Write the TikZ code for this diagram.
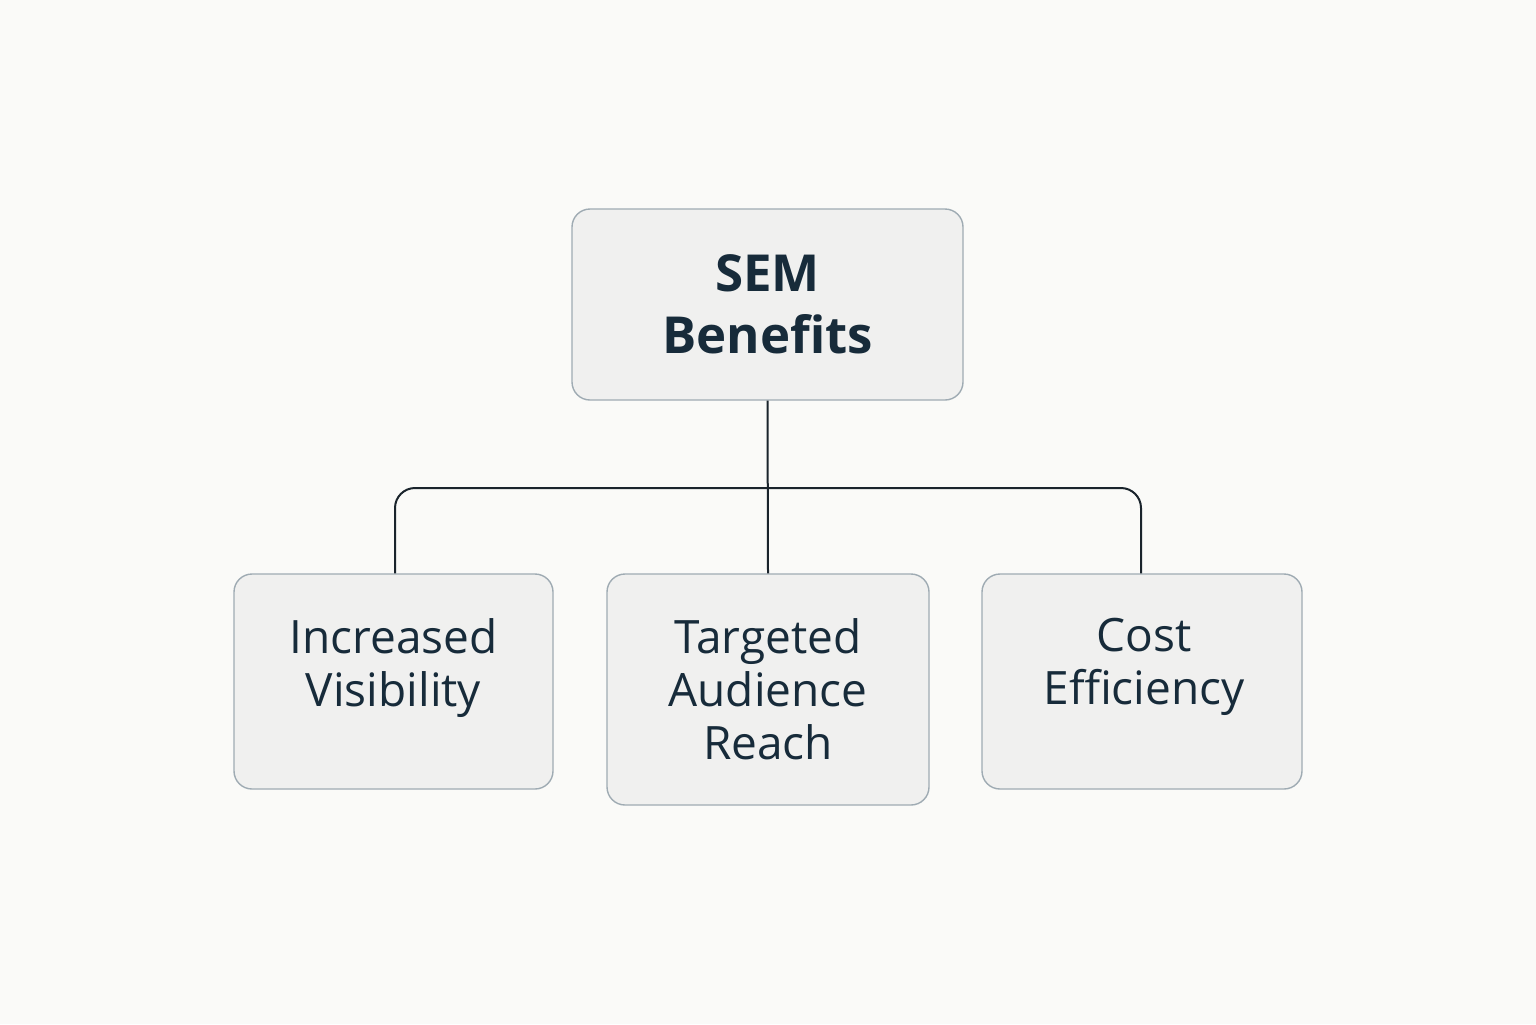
\documentclass[tikz,border=0pt]{standalone}
\usepackage{fontspec}
\setmainfont{Open Sans}
\definecolor{bg}{HTML}{FAFAF8}
\definecolor{boxfill}{HTML}{F0F0EF}
\definecolor{boxline}{HTML}{9FABB3}
\definecolor{txt}{HTML}{172B3A}
\definecolor{conn}{HTML}{1A242C}
\tikzset{
  px/.style={x=0.5pt,y=-0.5pt},
  card/.style={draw=boxline, fill=boxfill, line width=0.7pt, rounded corners=9pt, align=center, text=txt, inner sep=0pt},
  wire/.style={draw=conn, line width=1pt, rounded corners=10pt},
  label/.style={text=txt, align=center, font=\fontsize{23}{26.5}\selectfont, anchor=north},
}
\begin{document}
\begin{tikzpicture}[px]
\fill[bg] (0,0) rectangle (1536,1024);
\useasboundingbox (0,0) rectangle (1536,1024);
\node[card, minimum width=195.5pt, minimum height=95.5pt, font=\fontsize{25.5}{31}\selectfont\bfseries] (top) at (767.5,304.5) {SEM\\Benefits};
\node[card, minimum width=159.5pt, minimum height=107.5pt] (left) at (393.5,681.5) {};
\node[card, minimum width=161pt, minimum height=115.5pt] (mid) at (768,689.5) {};
\node[card, minimum width=160pt, minimum height=107.5pt] (right) at (1142,681.5) {};
\node[label] (lt) at (393.5,611) {Increased\\Visibility};
\node[label] (mt) at (768,611) {Targeted\\Audience\\Reach};
\node[label] (rt) at (1144,611) {Cost\\Efficiency};
\coordinate (hl) at (395,488);
\coordinate (hr) at (1141,488);
\draw[wire] (top.south) -- (mid.north);
\draw[wire] (left.north -| hl) -- (hl) -- (hr) -- (right.north -| hr);
\end{tikzpicture}
\end{document}
